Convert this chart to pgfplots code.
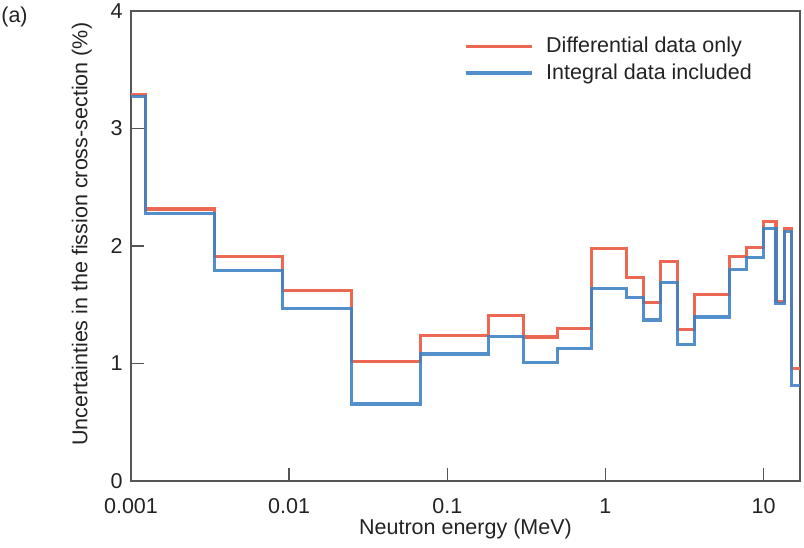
\documentclass[border=0pt]{standalone}
\usepackage{pgfplots}
\pgfplotsset{compat=1.18}
\usepackage{fontspec}
\setmainfont{Liberation Sans}
\definecolor{cred}{RGB}{237,104,83}
\definecolor{cblue}{RGB}{58,128,196}
\definecolor{axgray}{RGB}{85,85,85}
\definecolor{txt}{RGB}{35,35,35}
\begin{document}
\fontsize{22bp}{26bp}\selectfont
\begin{tikzpicture}
\begin{axis}[
  scale only axis, width=669bp, height=470bp,
  xmode=log, xmin=0.001, xmax=17, ymin=0, ymax=4,
  axis line style={axgray, line width=1.3bp},
  tick style={axgray, line width=1.3bp},
  tick align=inside, major tick length=13bp,
  xtick pos=left, ytick pos=left,
  xtick={0.001,0.01,0.1,1,10}, xticklabels={0.001,0.01,0.1,1,10},
  ytick={0,1,2,3,4},
  xminorticks=false,
  /pgf/number format/assume math mode=true,
  tick label style={font=\fontsize{21.5bp}{26bp}\selectfont, text=txt},
  xticklabel style={yshift=-10bp},
  yticklabel style={xshift=-1bp},
  xlabel={Neutron energy (MeV)},
  ylabel={Uncertainties in the fission cross-section (\%)},
  every axis x label/.style={at={(axis description cs:0.5,-0.102)}, anchor=center, font=\fontsize{21.5bp}{26bp}\selectfont, text=txt},
  every axis y label/.style={at={(axis description cs:-0.0735,0.525)}, anchor=center, rotate=90, font=\fontsize{21.5bp}{26bp}\selectfont, text=txt},
  legend style={draw=none, fill=none, at={(axis description cs:0.4975,0.95)}, anchor=north west,
    font=\fontsize{21.5bp}{26bp}\selectfont, text=txt, inner xsep=0pt, inner ysep=0pt,
    row sep=4bp, nodes={inner xsep=7bp, inner ysep=2bp}},
  legend cell align=left,
  legend image code/.code={\draw[#1, line width=3.2bp] (0bp,0bp) -- (66bp,0bp); \path (72bp,0bp);},
  const plot mark left,
]
\addplot[cred, line width=3.2bp, mark=none] coordinates {
(0.001,3.29) (0.0012341,2.315) (0.0033546,1.91) (0.0091188,1.62) (0.024788,1.02)
(0.067379,1.236) (0.18316,1.41) (0.30197,1.225) (0.49787,1.296) (0.82085,1.98)
(1.3534,1.73) (1.7377,1.52) (2.2313,1.87) (2.865,1.29) (3.6788,1.59)
(6.0653,1.91) (7.788,1.99) (10,2.21) (12,1.53) (13.5,2.15) (15,0.96) (17,0.96)
};
\addlegendentry{Differential data only}
\addplot[cblue, line width=3.2bp, mark=none, draw opacity=0.88] coordinates {
(0.001,3.27) (0.0012341,2.275) (0.0033546,1.79) (0.0091188,1.47) (0.024788,0.656)
(0.067379,1.08) (0.18316,1.23) (0.30197,1.01) (0.49787,1.126) (0.82085,1.64)
(1.3534,1.56) (1.7377,1.37) (2.2313,1.69) (2.865,1.16) (3.6788,1.395)
(6.0653,1.80) (7.788,1.90) (10,2.15) (12,1.51) (13.5,2.12) (15,0.81) (17,0.81)
};
\addlegendentry{Integral data included}
\end{axis}
\node[text=txt, anchor=center, font=\fontsize{21.5bp}{26bp}\selectfont] at ([shift={(-116.5bp,-6bp)}]current axis.north west) {(a)};
\pgfresetboundingbox
\path ([shift={(-131bp,-67bp)}]current axis.south west) rectangle ([shift={(4bp,11bp)}]current axis.north east);
\end{tikzpicture}
\end{document}
